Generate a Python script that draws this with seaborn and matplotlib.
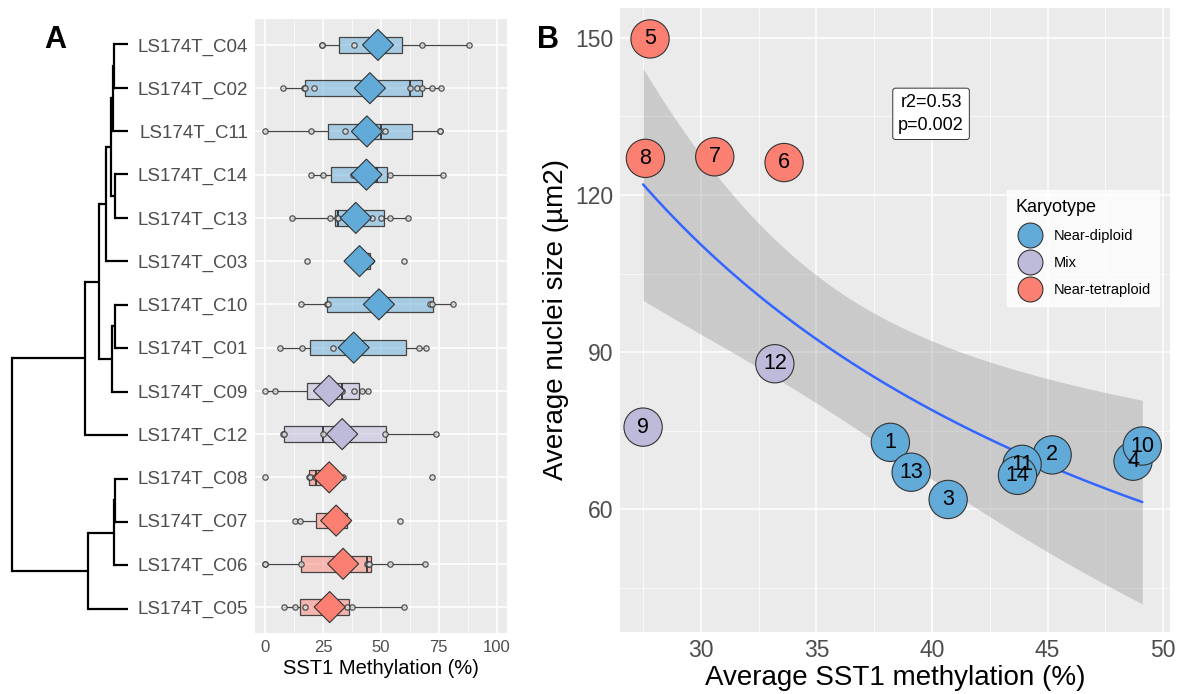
import numpy as np
import pandas as pd
import matplotlib
matplotlib.use("Agg")
import matplotlib.pyplot as plt
import seaborn as sns

# ---- data ----
# panel A rows, top to bottom (dendrogram leaf order)
clones = ["LS174T_C04", "LS174T_C02", "LS174T_C11", "LS174T_C14", "LS174T_C13",
          "LS174T_C03", "LS174T_C10", "LS174T_C01", "LS174T_C09", "LS174T_C12",
          "LS174T_C08", "LS174T_C07", "LS174T_C06", "LS174T_C05"]

# box statistics per row (SST1 methylation %)
q1 = [31.7, 17.3, 27.1, 28.4, 30.0, 39.5, 26.7, 19.2, 18.0, 7.9, 18.8, 21.9, 15.6, 14.9]
median = [47.0, 62.5, 49.8, 48.3, 31.3, 43.0, 49.0, 38.0, 33.2, 24.8, 21.9, 31.0, 44.0, 28.0]
q3 = [59.2, 67.8, 63.5, 52.7, 51.2, 45.2, 72.6, 60.6, 40.4, 52.2, 25.5, 35.4, 45.5, 36.1]
whisker_lo = [24.5, 7.6, 0.0, 19.9, 11.3, 39.5, 15.4, 6.2, 0.0, 7.9, 18.8, 12.6, 0.0, 7.9]
whisker_hi = [88.0, 76.0, 75.5, 76.8, 61.6, 45.2, 81.2, 69.3, 44.4, 73.9, 33.5, 35.4, 69.0, 59.9]

# single measurements per clone
points = [
    [24.5, 24.5, 38.5, 67.8, 88.0],
    [7.6, 16.6, 17.3, 20.9, 62.5, 65.4, 67.8, 72.2, 76.0],
    [0.0, 19.9, 34.6, 49.8, 51.9, 75.5, 75.5],
    [19.9, 25.0, 38.0, 48.3, 53.8, 76.8],
    [11.3, 27.8, 31.0, 31.3, 46.2, 50.1, 54.1, 61.6],
    [18.2, 42.6, 45.7, 59.9],
    [15.4, 26.7, 26.9, 71.4, 72.0, 81.2],
    [6.2, 15.9, 29.1, 66.4, 69.3],
    [0.0, 4.3, 32.8, 33.2, 38.2, 41.8, 44.4],
    [7.6, 7.9, 24.8, 51.9, 73.9],
    [0.0, 19.0, 19.4, 21.6, 33.5, 71.9],
    [12.6, 14.9, 34.6, 35.4, 58.2],
    [0.0, 0.0, 15.6, 44.0, 44.4, 44.7, 53.7, 69.0],
    [7.9, 12.6, 17.3, 35.4, 37.5, 59.9],
]

# dendrogram merges (child, child, height)
merges = [
    ("LS174T_C04", "LS174T_C02", 14),   # m0
    ("m0", "LS174T_C11", 15),           # m1
    ("LS174T_C14", "LS174T_C13", 13),   # m2
    ("m1", "m2", 17),                   # m3
    ("m3", "LS174T_C03", 22),           # m4
    ("LS174T_C10", "LS174T_C01", 13),   # m5
    ("m5", "LS174T_C09", 16),           # m6
    ("m4", "m6", 29),                   # m7
    ("m7", "LS174T_C12", 43),           # m8
    ("LS174T_C08", "LS174T_C07", 13),   # m9
    ("m9", "LS174T_C06", 14),           # m10
    ("m10", "LS174T_C05", 40),          # m11
    ("m8", "m11", 116),                 # m12
]

# panel B, clone 1..14
clone_num = list(range(1, 15))
avg_meth = [38.2, 45.2, 40.7, 48.7, 27.8, 33.6, 30.6, 27.6, 27.5, 49.1, 43.9, 33.2, 39.1, 43.7]
nuclei_size = [72.8, 70.4, 61.9, 69.2, 149.8, 126.2, 127.3, 127.0, 75.7, 72.1, 68.6, 87.8, 67.1, 66.5]
karyotype = ["Near-diploid", "Near-diploid", "Near-diploid", "Near-diploid",
             "Near-tetraploid", "Near-tetraploid", "Near-tetraploid", "Near-tetraploid",
             "Mix", "Near-diploid", "Near-diploid", "Mix", "Near-diploid", "Near-diploid"]

kary_order = ["Near-diploid", "Mix", "Near-tetraploid"]
kary_colors = {"Near-diploid": "#62AAD8", "Mix": "#BEBADA", "Near-tetraploid": "#FB8072"}

# ---- style ----
sns.set_theme(style="darkgrid", rc={"axes.facecolor": "#EBEBEB", "grid.color": "white",
                                    "text.color": "black", "axes.labelcolor": "black"})
plt.rcParams["font.family"] = ["Liberation Sans", "DejaVu Sans"]
grey_txt = "#4D4D4D"

fig = plt.figure(figsize=(11.8, 6.94), dpi=100)
W, H = 1180, 694
axD = fig.add_axes([10 / W, (H - 635) / H, 120 / W, 617 / H])
axA = fig.add_axes([255 / W, (H - 633) / H, 252 / W, 614 / H])
axB = fig.add_axes([620 / W, (H - 632) / H, 550 / W, 624 / H])

# ---- panel A: boxes ----
num_of = {c: int(c.split("_C")[1]) for c in clones}
row_kary = [karyotype[num_of[c] - 1] for c in clones]
row_mean = [avg_meth[num_of[c] - 1] for c in clones]

stats = []
for i, c in enumerate(clones):
    stats.append({"q1": q1[i], "med": median[i], "q3": q3[i],
                  "whislo": whisker_lo[i], "whishi": whisker_hi[i], "fliers": []})
bp = axA.bxp(stats, positions=np.arange(len(clones)), widths=0.36, vert=False,
             patch_artist=True, showfliers=False, showcaps=False,
             boxprops=dict(edgecolor="#444444", linewidth=0.9),
             whiskerprops=dict(color="#444444", linewidth=0.9),
             medianprops=dict(color="#333333", linewidth=1.3))
for patch, k in zip(bp["boxes"], row_kary):
    patch.set_facecolor(matplotlib.colors.to_rgba(kary_colors[k], 0.5))

pts = pd.DataFrame([(c, v) for c, vals in zip(clones, points) for v in vals],
                   columns=["clone", "meth"])
pts["pos"] = pts["clone"].map({c: i for i, c in enumerate(clones)})
sns.scatterplot(data=pts, x="meth", y="pos", ax=axA, s=15, color="#D9D9D9",
                alpha=0.85, edgecolor="#3A3A3A", linewidth=0.9, zorder=3, legend=False)

sns.scatterplot(x=row_mean, y=np.arange(len(clones)), hue=row_kary, hue_order=kary_order,
                palette=kary_colors, marker="D", s=250, edgecolor="#333333",
                linewidth=0.8, ax=axA, zorder=4, legend=False)

axA.set_ylim(len(clones) - 0.4, -0.6)
axA.set_xlim(-4.5, 104.5)
axA.set_yticks(np.arange(len(clones)))
axA.set_yticklabels(clones, fontsize=13.5, color=grey_txt)
axA.set_xticks([0, 25, 50, 75, 100])
axA.set_xticklabels(["0", "25", "50", "75", "100"], fontsize=12, color=grey_txt)
axA.set_xticks([12.5, 37.5, 62.5, 87.5], minor=True)
axA.grid(which="major", color="white", linewidth=1.1)
axA.grid(which="minor", axis="x", color="white", linewidth=0.5)
axA.tick_params(length=3, width=0.8, color="#333333", pad=2)
axA.set_xlabel("SST1 Methylation (%)", fontsize=14.5, color="black", labelpad=3)
axA.set_ylabel("")
for s in axA.spines.values():
    s.set_visible(False)

# ---- panel A: dendrogram ----
leaf_y = {c: i for i, c in enumerate(clones)}
node_y, node_h = dict(leaf_y), {c: 0 for c in clones}
for j, (a, b, h) in enumerate(merges):
    for child in (a, b):
        axD.plot([node_h[child], h], [node_y[child], node_y[child]], color="black", lw=1.6,
                 solid_capstyle="butt")
    axD.plot([h, h], [node_y[a], node_y[b]], color="black", lw=1.6, solid_capstyle="projecting")
    node_y["m%d" % j] = (node_y[a] + node_y[b]) / 2
    node_h["m%d" % j] = h
axD.set_xlim(118, -2)
axD.set_ylim(len(clones) - 0.4, -0.6)
axD.axis("off")

# ---- panel B ----
dfB = pd.DataFrame({"clone": clone_num, "meth": avg_meth, "size": nuclei_size,
                    "Karyotype": karyotype})

# fit size ~ a + b / methylation with 95% band
x = dfB["meth"].to_numpy()
y = dfB["size"].to_numpy()
X = np.column_stack([np.ones_like(x), 1 / x])
beta, *_ = np.linalg.lstsq(X, y, rcond=None)
resid = y - X @ beta
sigma2 = resid @ resid / (len(x) - 2)
cov = sigma2 * np.linalg.inv(X.T @ X)
xs = np.linspace(x.min(), x.max(), 100)
Xs = np.column_stack([np.ones_like(xs), 1 / xs])
fit = Xs @ beta
se = np.sqrt(np.einsum("ij,jk,ik->i", Xs, cov, Xs))
t_crit = 2.179  # t(0.975, df=12)
axB.fill_between(xs, fit - t_crit * se, fit + t_crit * se, color="#999999", alpha=0.4,
                 linewidth=0, zorder=1)
axB.plot(xs, fit, color="#3366FF", lw=1.8, zorder=2)

sns.scatterplot(data=dfB, x="meth", y="size", hue="Karyotype", hue_order=kary_order,
                palette=kary_colors, s=760, edgecolor="#333333", linewidth=0.8,
                ax=axB, zorder=3)
for _, r in dfB.iterrows():
    axB.text(r["meth"], r["size"], str(r["clone"]), ha="center", va="center",
             fontsize=15.5, color="black", zorder=4)

axB.text(39.96, 135.5, "r2=0.53\np=0.002", ha="center", va="center", fontsize=13,
         linespacing=1.5,
         bbox=dict(boxstyle="round,pad=0.3,rounding_size=0.15", facecolor="white",
                   edgecolor="#333333", linewidth=0.7))

axB.set_xlim(26.5, 50.3)
axB.set_ylim(36.6, 155.7)
axB.set_xticks([30, 35, 40, 45, 50])
axB.set_xticklabels(["30", "35", "40", "45", "50"], fontsize=16.5, color=grey_txt)
axB.set_yticks([60, 90, 120, 150])
axB.set_yticklabels(["60", "90", "120", "150"], fontsize=16.5, color=grey_txt)
axB.set_xticks([27.5, 32.5, 37.5, 42.5, 47.5], minor=True)
axB.set_yticks([45, 75, 105, 135], minor=True)
axB.grid(which="major", color="white", linewidth=1.1)
axB.grid(which="minor", color="white", linewidth=0.5)
axB.tick_params(length=3, width=0.8, color="#333333", pad=2)
axB.set_xlabel("Average SST1 methylation (%)", fontsize=20, labelpad=2)
axB.set_ylabel("Average nuclei size (\u00b5m2)", fontsize=20, labelpad=4)
for s in axB.spines.values():
    s.set_visible(False)

leg = axB.legend(title="Karyotype", loc="upper left", bbox_to_anchor=(0.69, 0.72),
                 frameon=True, fancybox=False, markerscale=0.65, fontsize=10.5,
                 title_fontsize=13, labelspacing=0.9, borderpad=0.6, handletextpad=0.6)
leg.get_frame().set_facecolor("white")
leg.get_frame().set_edgecolor("white")
leg._legend_box.align = "left"

fig.text(55 / W, 1 - 40 / H, "A", fontsize=22, fontweight="bold", ha="center", va="center")
fig.text(548 / W, 1 - 40 / H, "B", fontsize=22, fontweight="bold", ha="center", va="center")

plt.savefig("out.png", dpi=100)
